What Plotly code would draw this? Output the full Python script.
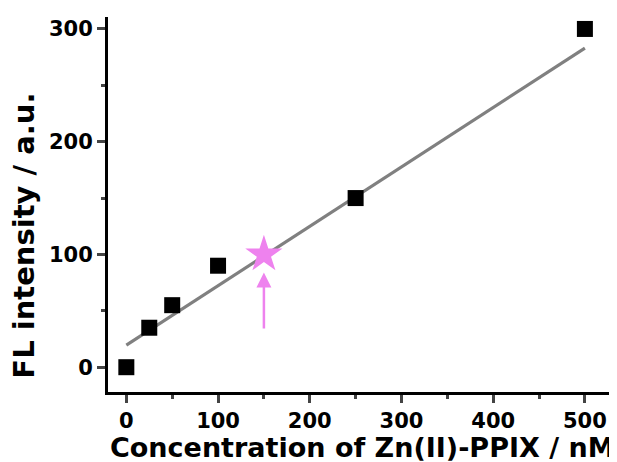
import plotly.graph_objects as go

conc = [0, 25, 50, 100, 250, 500]
fl = [0, 35, 55, 90, 150, 300]
star_x = [150]
star_y = [100]
fit_x = [0, 500]
fit_y = [19.5, 283]
arrow_from = (150, 33)
arrow_to = (150, 84)
x_ticks = [0, 100, 200, 300, 400, 500]
y_ticks = [0, 100, 200, 300]
x_title = "Concentration of Zn(II)-PPIX / nM"
y_title = "FL intensity / a.u."

VIOLET = "#EE82EE"
FONT = "DejaVu Sans, sans-serif"

fig = go.Figure()
fig.add_trace(go.Scatter(x=fit_x, y=fit_y, mode="lines",
                         line=dict(color="#808080", width=3.2), showlegend=False))
fig.add_trace(go.Scatter(x=conc, y=fl, mode="markers",
                         marker=dict(symbol="square", size=16, color="black"),
                         showlegend=False, cliponaxis=False))
fig.add_trace(go.Scatter(x=star_x, y=star_y, mode="markers",
                         marker=dict(symbol="star", size=28, color=VIOLET, line=dict(width=0)),
                         showlegend=False, cliponaxis=False))
fig.add_annotation(x=arrow_to[0], y=arrow_to[1], ax=arrow_from[0], ay=arrow_from[1],
                   xref="x", yref="y", axref="x", ayref="y", text="",
                   showarrow=True, arrowhead=2, arrowsize=1.2, arrowwidth=2.5,
                   arrowcolor=VIOLET, standoff=0)
fig.add_annotation(text=x_title, xref="paper", yref="paper", x=0.5, y=-0.147,
                   xanchor="center", yanchor="middle", showarrow=False,
                   font=dict(size=27, family=FONT, weight="bold", color="black"))
fig.add_annotation(text=y_title, xref="paper", yref="paper", x=-0.165, y=0.417,
                   xanchor="center", yanchor="middle", showarrow=False, textangle=-90,
                   font=dict(size=29, family=FONT, weight="bold", color="black"))

fig.update_layout(
    width=609, height=454,
    margin=dict(l=100, r=0, t=9, b=70),
    paper_bgcolor="white", plot_bgcolor="white",
    font=dict(family=FONT, color="black"),
    xaxis=dict(range=[-20, 535], tickvals=x_ticks, ticks="outside", ticklen=8, tickwidth=2.5,
               showline=True, linewidth=3, linecolor="black", showgrid=False, zeroline=False,
               automargin=False,
               tickfont=dict(size=21, family=FONT, weight="bold"),
               minor=dict(dtick=50, ticks="outside", ticklen=4, tickwidth=2.5, showgrid=False)),
    yaxis=dict(range=[-22, 310.6], tickvals=y_ticks, ticks="outside", ticklen=8, tickwidth=2.5,
               showline=True, linewidth=3, linecolor="black", showgrid=False, zeroline=False,
               automargin=False,
               tickfont=dict(size=21, family=FONT, weight="bold"),
               minor=dict(dtick=50, ticks="outside", ticklen=4, tickwidth=2.5, showgrid=False)),
)
fig.write_html("out.html")
